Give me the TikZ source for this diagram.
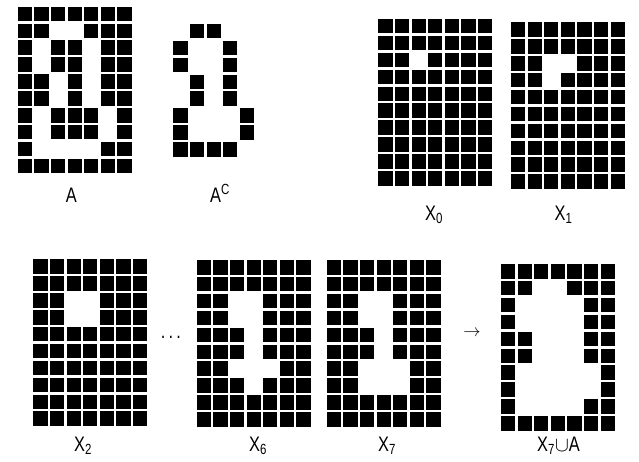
\documentclass[tikz,border=0pt]{standalone}
\usepackage{fontspec}
\setmainfont{Liberation Sans}[FakeStretch=0.78]
\newcommand{\pixgrid}[3]{%
  \foreach \gr [count=\gi from 0] in {#3} {%
    \foreach \gv [count=\gj from 0] in \gr {%
      \ifnum\gv=1\relax
        \fill[cellfill] ({#1+\gj*16.6},{#2+\gi*16.9}) rectangle ++(14.2,14.5);
      \fi
    }%
  }%
}
\tikzset{
  cellfill/.style={fill=black},
  lbl/.style={anchor=base, inner sep=0pt, font=\fontsize{21}{25}\selectfont}
}
\begin{document}
\begin{tikzpicture}[x=1pt,y=-1pt]
\useasboundingbox (0,0) rectangle (639,462);
% A
\pixgrid{17.7}{6.7}{{1,1,1,1,1,1,1},{1,1,0,0,1,1,1},{1,0,1,1,0,1,1},{1,0,1,1,0,1,1},{1,1,0,1,0,1,1},{1,1,0,1,0,1,1},{1,0,1,1,1,0,1},{1,0,1,1,1,0,1},{1,0,0,0,0,1,1},{1,1,1,1,1,1,1}}
% A^C
\pixgrid{156.7}{7}{{0,0,0,0,0,0,0},{0,0,1,1,0,0,0},{0,1,0,0,1,0,0},{0,1,0,0,1,0,0},{0,0,1,0,1,0,0},{0,0,1,0,1,0,0},{0,1,0,0,0,1,0},{0,1,0,0,0,1,0},{0,1,1,1,1,0,0},{0,0,0,0,0,0,0}}
% X0
\pixgrid{378.3}{19}{{1,1,1,1,1,1,1},{1,1,1,1,1,1,1},{1,1,0,1,1,1,1},{1,1,1,1,1,1,1},{1,1,1,1,1,1,1},{1,1,1,1,1,1,1},{1,1,1,1,1,1,1},{1,1,1,1,1,1,1},{1,1,1,1,1,1,1},{1,1,1,1,1,1,1}}
% X1
\pixgrid{511}{22.3}{{1,1,1,1,1,1,1},{1,1,1,1,1,1,1},{1,1,0,0,1,1,1},{1,1,0,1,1,1,1},{1,1,1,1,1,1,1},{1,1,1,1,1,1,1},{1,1,1,1,1,1,1},{1,1,1,1,1,1,1},{1,1,1,1,1,1,1},{1,1,1,1,1,1,1}}
% X2
\pixgrid{33.3}{259.3}{{1,1,1,1,1,1,1},{1,1,1,1,1,1,1},{1,1,0,0,1,1,1},{1,1,0,0,1,1,1},{1,1,1,1,1,1,1},{1,1,1,1,1,1,1},{1,1,1,1,1,1,1},{1,1,1,1,1,1,1},{1,1,1,1,1,1,1},{1,1,1,1,1,1,1}}
% X6
\pixgrid{196.7}{260}{{1,1,1,1,1,1,1},{1,1,1,1,1,1,1},{1,1,0,0,1,1,1},{1,1,0,0,1,1,1},{1,1,1,0,1,1,1},{1,1,1,0,1,1,1},{1,1,0,0,0,1,1},{1,1,1,0,1,1,1},{1,1,1,1,1,1,1},{1,1,1,1,1,1,1}}
% X7
\pixgrid{326.7}{260}{{1,1,1,1,1,1,1},{1,1,1,1,1,1,1},{1,1,0,0,1,1,1},{1,1,0,0,1,1,1},{1,1,1,0,1,1,1},{1,1,1,0,1,1,1},{1,1,0,0,0,1,1},{1,1,0,0,0,1,1},{1,1,1,1,1,1,1},{1,1,1,1,1,1,1}}
% X7 u A
\pixgrid{501}{264}{{1,1,1,1,1,1,1},{1,1,0,0,1,1,1},{1,0,0,0,0,1,1},{1,0,0,0,0,1,1},{1,1,0,0,0,1,1},{1,1,0,0,0,1,1},{1,0,0,0,0,0,1},{1,0,0,0,0,0,1},{1,0,0,0,0,1,1},{1,1,1,1,1,1,1}}
% labels
\node[lbl] (lA) at (71.3,202.3) {A};
\node[lbl] (lAc) at (220,202.3) {A\textsuperscript{C}};
\node[lbl] (lX0) at (434,220.7) {X\textsubscript{0}};
\node[lbl] (lX1) at (563.5,220.7) {X\textsubscript{1}};
\node[lbl] (lX2) at (83,451) {X\textsubscript{2}};
\node[lbl] (lX6) at (258,451) {X\textsubscript{6}};
\node[lbl] (lX7) at (387,451) {X\textsubscript{7}};
\node[lbl] (lX7A) at (558.5,451) {X\textsubscript{7}$\cup$A};
\node[lbl] (dots) at (171,338) {.\hspace{3.2pt}.\hspace{3.2pt}.};
\node[inner sep=0pt, font=\fontsize{17}{20}\selectfont] (arr) at (472,333) {$\rightarrow$};
\end{tikzpicture}
\end{document}
